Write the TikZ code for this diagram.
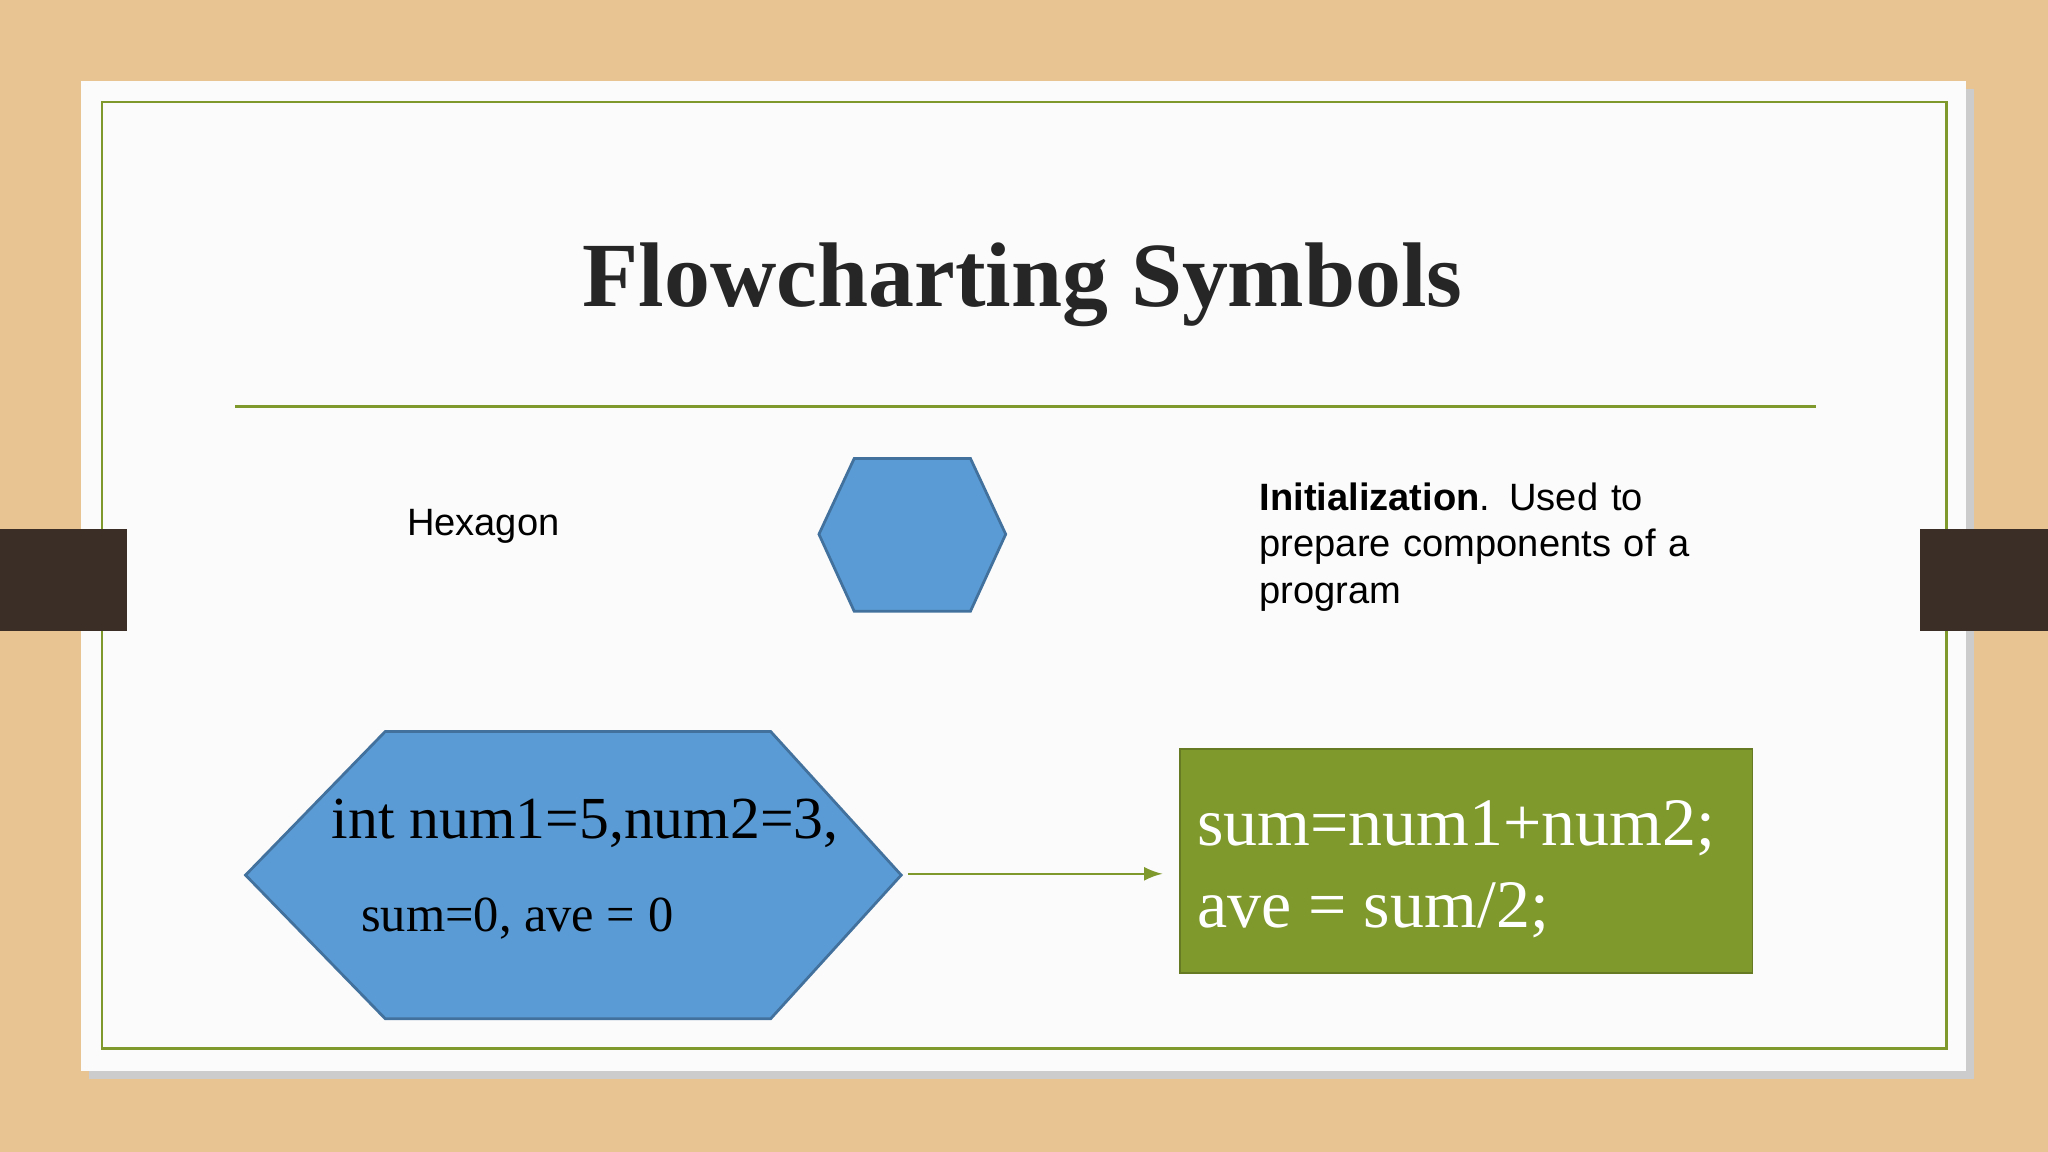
\documentclass[tikz,border=0pt]{standalone}
\usepackage{fontspec}
\setmainfont{Liberation Serif}
\setsansfont{Liberation Sans}
\usetikzlibrary{positioning}
\usetikzlibrary{arrows}
\definecolor{wood}{RGB}{232,196,146}
\definecolor{slidegreen}{RGB}{128,153,45}
\definecolor{hexblue}{RGB}{91,155,213}
\definecolor{hexedge}{RGB}{65,113,156}
\definecolor{tabdark}{RGB}{58,46,38}

\begin{document}
\begin{tikzpicture}[
    x=0.1mm, y=-0.1mm,
    >=latex,
    % node styles
    title/.style = {font=\fontsize{20}{24}\selectfont\bfseries, text=black!85},
    label/.style = {font=\sffamily\fontsize{8.3}{10.2}\selectfont, align=left},
    code/.style = {font=\fontsize{13}{16}\selectfont, inner sep=0pt},
    hexa/.style = {fill=hexblue, draw=hexedge, line width=0.6pt},
    % arrow styles
    arr/.style = {->, line width=0.4pt, draw=slidegreen, shorten >=1.3mm}
  ]
  \useasboundingbox (0,0) rectangle (1568,882);

  % --- Background
  \fill[wood] (0,0) rectangle (1568,882);
  \fill[black!20] (68,68) rectangle (1511,826);
  \fill[white!97!gray] (62,62) rectangle (1505,820);
  \draw[slidegreen, line width=0.6pt] (78,78) rectangle (1490,803);
  \fill[tabdark] (0,405) rectangle (97,483);
  \fill[tabdark] (1470,405) rectangle (1568,483);

  % --- Title
  \node[title] (head) at (783,218) {Flowcharting Symbols};
  \draw[slidegreen, line width=0.6pt] (180,311) -- (1390,311);

  % --- Symbol row
  \node[label] (name) at (370,403) {Hexagon};
  \draw[hexa] (627,409) -- (654,351) -- (743,351) -- (770,409)
    -- (743,468) -- (654,468) -- cycle;
  \node[label, anchor=north west, text width=3.4cm] (desc) at (952,357)
    {\textbf{Initialization}. Used to prepare components of a program};

  % --- Example
  \draw[hexa] (188,670) -- (295,560) -- (590,560) -- (690,670)
    -- (590,780) -- (295,780) -- cycle;
  \coordinate (hexR) at (695,669);
  \node[code] (init1) at (448,630) {int num1=5,num2=3,};
  \node[code, font=\fontsize{11}{13}\selectfont] (init2) at (396,703) {sum=0, ave = 0};

  \node[fill=slidegreen, draw=slidegreen!80!black, minimum width=4.38cm,
    minimum height=1.71cm, anchor=north west] (calc) at (903,573) {};
  \node[code, font=\fontsize{14.8}{18}\selectfont, text=white, anchor=west] (calc1) at (916,634) {sum=num1+num2;};
  \node[code, font=\fontsize{14.8}{18}\selectfont, text=white, anchor=west] (calc2) at (916,697) {ave = sum/2;};

  % --- Arrow
  \draw[arr] (hexR) -- (calc.west |- hexR);

\end{tikzpicture}
\end{document}
